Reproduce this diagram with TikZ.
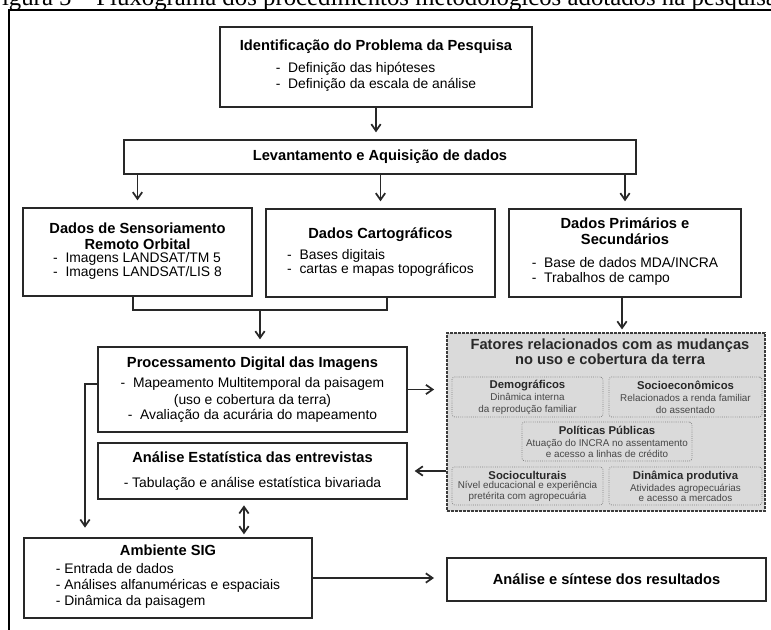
\documentclass[tikz,border=0pt]{standalone}
\usepackage{fontspec}
\setmainfont{Liberation Sans}
\newfontfamily\capfont{Liberation Serif}
\usetikzlibrary{arrows.meta,positioning,calc}
\definecolor{boxline}{RGB}{40,40,40}
\definecolor{factfill}{RGB}{218,218,218}
\definecolor{factline}{RGB}{60,60,60}
\definecolor{subline}{RGB}{130,130,130}
\definecolor{subtext}{RGB}{70,70,70}
\newcommand{\boxtitle}[1]{{\fontsize{11}{12}\selectfont\bfseries #1}}
\newcommand{\subtitle}[1]{\textcolor{boxline}{\fontsize{8.5}{9}\selectfont\bfseries #1}}
\newcommand{\itemlist}[1]{\begin{tabular}[t]{@{}l@{}}#1\end{tabular}}

\begin{document}
\begin{tikzpicture}[x=0.75pt, y=-0.75pt,
    box/.style={rectangle, draw=boxline, fill=white, line width=1.5pt, align=center, inner sep=0pt, font=\fontsize{10.4}{12}\selectfont},
    factbox/.style={rectangle, draw=factline, fill=factfill, line width=1.3pt, dash pattern=on 2pt off 1pt, inner sep=0pt},
    subbox/.style={rectangle, rounded corners=2pt, draw=subline, fill=factfill, line width=0.6pt, densely dotted, align=center, inner sep=0pt, text=subtext, font=\fontsize{7.4}{9}\selectfont},
    arrow/.style={-{Straight Barb[length=5pt,width=7pt]}, line width=1.3pt, boxline, shorten >=5pt},
    link/.style={line width=1.3pt, boxline}
]
    \useasboundingbox (0,0) rectangle (771,630);

    % legenda cortada e moldura
    \node[anchor=base west, inner sep=0pt, font=\capfont\fontsize{18.6}{20}\selectfont] (caption) at (-12,6) {Figura 5 – Fluxograma dos procedimentos metodológicos adotados na pesquisa};
    \draw[line width=1.6pt] (9,10) rectangle (800,660);

    % caixas principais
    \node[box, minimum width=234pt, minimum height=60pt] (ident) at (376,67)
        {\boxtitle{Identificação do Problema da Pesquisa}\\[4.5pt]\itemlist{-\ \ Definição das hipóteses\\-\ \ Definição da escala de análise}};
    \node[box, minimum width=384pt, minimum height=25.5pt] (levant) at (380,157) {\boxtitle{Levantamento e Aquisição de dados}};

    \node[box, minimum width=171.75pt, minimum height=66pt] (sensor) at (137.5,252)
        {\boxtitle{Dados de Sensoriamento}\\\boxtitle{Remoto Orbital}\\[-2.25pt]\itemlist{-\ \ Imagens LANDSAT/TM 5\\[-1.5pt]-\ \ Imagens LANDSAT/LIS 8}};
    \node[box, minimum width=171.75pt, minimum height=66pt] (carto) at (380.5,253)
        {\boxtitle{Dados Cartográficos}\\[3.75pt]\itemlist{-\ \ Bases digitais\\[-1.5pt]-\ \ cartas e mapas topográficos}};
    \node[box, minimum width=174pt, minimum height=66pt] (prim) at (625,253)
        {\boxtitle{Dados Primários e}\\\boxtitle{Secundários}\\[5.25pt]\itemlist{-\ \ Base de dados MDA/INCRA\\[-0.75pt]-\ \ Trabalhos de campo}};

    \node[box, minimum width=231.75pt, minimum height=63.75pt] (proc) at (252.5,389.5)
        {\boxtitle{Processamento Digital das Imagens}\\[3pt]-\ \ Mapeamento Multitemporal da paisagem\\[0.75pt](uso e cobertura da terra)\\[-0.75pt]-\ \ Avaliação da acurária do mapeamento};
    \node[box, minimum width=231.75pt, minimum height=42pt] (estat) at (252.5,471)
        {\boxtitle{Análise Estatística das entrevistas}\\[6.75pt]- Tabulação e análise estatística bivariada};

    \node[box, minimum width=216pt, minimum height=60pt] (sig) at (168,578)
        {\boxtitle{Ambiente SIG}\\[1.5pt]\itemlist{- Entrada de dados\\- Análises alfanuméricas e espaciais\\- Dinâmica da paisagem}};
    \node[box, minimum width=239.25pt, minimum height=32.25pt] (sintese) at (606.5,579.5) {\boxtitle{Análise e síntese dos resultados}};

    % fatores
    \node[factbox, minimum width=238.5pt, minimum height=133.5pt] (fatores) at (606,422) {};
    \node[align=center, inner sep=0pt, font=\fontsize{11}{11.25}\selectfont\bfseries, text=boxline] (fattitle) at (610,352)
        {Fatores relacionados com as mudanças\\no uso e cobertura da terra};
    \node[subbox, minimum width=113.25pt, minimum height=30pt] (demog) at (527.5,397)
        {\subtitle{Demográficos}\\Dinâmica interna\\da reprodução familiar};
    \node[subbox, minimum width=114.75pt, minimum height=30pt] (socioec) at (685.5,397)
        {\subtitle{Socioeconômicos}\\Relacionados a renda familiar\\do assentado};
    \node[subbox, minimum width=127.5pt, minimum height=29.25pt] (politicas) at (607,441.5)
        {\subtitle{Políticas Públicas}\\Atuação do INCRA no assentamento\\[-0.75pt]e acesso a linhas de crédito};
    \node[subbox, minimum width=113.25pt, minimum height=28.5pt] (sociocult) at (527.5,486)
        {\subtitle{Socioculturais}\\[-2.25pt]Nível educacional e experiência\\[-0.75pt]pretérita com agropecuária};
    \node[subbox, minimum width=114.75pt, minimum height=28.5pt] (dinprod) at (685.5,486)
        {\subtitle{Dinâmica produtiva}\\Atividades agropecuárias\\[-1.5pt]e acesso a mercados};

    % ligacoes
    \draw[arrow] (ident) -- (ident.south |- levant.north);
    \draw[arrow] (levant.south -| sensor.north) -- (sensor.north);
    \draw[arrow] (levant.south -| carto.north) -- (carto.north);
    \draw[arrow] (levant.south -| prim.north) -- (prim.north);

    \coordinate (join) at (260,310);
    \draw[link] ([xshift=-3.4pt]sensor.south) |- (join) -| ([xshift=4.9pt]carto.south);
    \draw[arrow] (join) -- (join |- proc.north);

    \draw[arrow, shorten >=2pt] ([xshift=-2.25pt]prim.south) -- ([xshift=-2.25pt]prim.south |- fatores.north);
    \draw[arrow, shorten >=9pt] (proc.east) -- (proc.east -| fatores.west);
    \draw[arrow] (estat.east -| fatores.west) -- (estat.east);

    \coordinate (lft) at (85,384);
    \draw[arrow, shorten >=7pt] (lft -| proc.west) -- (lft) -- (lft |- sig.north);
    \draw[{Straight Barb[length=5pt,width=7pt]}-{Straight Barb[length=5pt,width=7pt]}, line width=1.3pt, boxline, shorten <=4pt, shorten >=2pt]
        ([xshift=-6.4pt]estat.south) -- ([xshift=-6.4pt]estat.south |- sig.north);
    \draw[arrow, shorten >=9pt] (sig.east) -- (sig.east -| sintese.west);
\end{tikzpicture}
\end{document}
